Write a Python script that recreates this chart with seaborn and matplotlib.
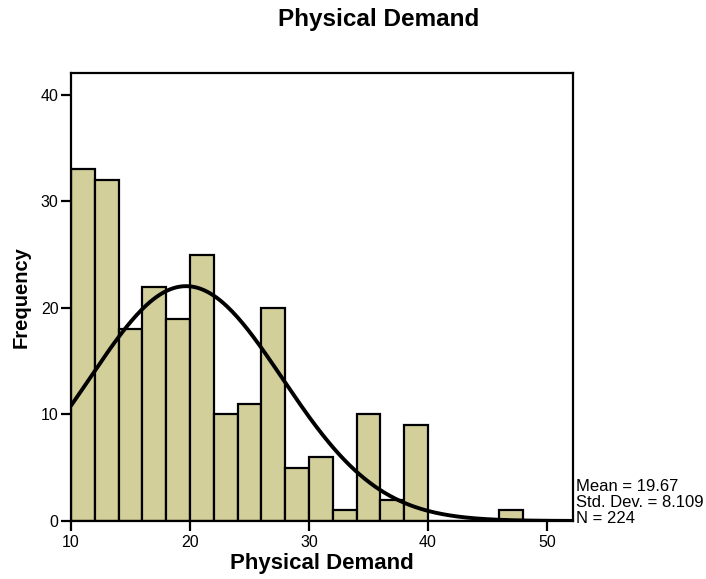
import numpy as np
import pandas as pd
import matplotlib
matplotlib.use("Agg")
import matplotlib.pyplot as plt
import seaborn as sns

# --- Histogram data (bin width = 2) ---
bin_edges = [10, 12, 14, 16, 18, 20, 22, 24, 26, 28, 30, 32, 34, 36, 38, 40, 42, 44, 46, 48]
counts = [33, 32, 18, 22, 19, 25, 10, 11, 20, 5, 6, 1, 10, 2, 9, 0, 0, 0, 1]
x_ticks = [10, 20, 30, 40, 50]
y_ticks = [0, 10, 20, 30, 40]

# summary stats printed on the chart
MEAN = 19.67
STD = 8.109
N = 224

BAR_COLOR = '#D3CF9B'

sns.set_style("white")
plt.rcParams['font.family'] = ['Liberation Sans', 'DejaVu Sans']
plt.rcParams['text.color'] = 'black'
plt.rcParams['axes.labelcolor'] = 'black'
plt.rcParams['xtick.color'] = 'black'
plt.rcParams['ytick.color'] = 'black'

df = pd.DataFrame({
    'center': [(a + b) / 2 for a, b in zip(bin_edges[:-1], bin_edges[1:])],
    'count': counts,
})

fig = plt.figure(figsize=(7.06, 5.79), dpi=100)
ax = fig.add_axes([0.1006, 0.1002, 0.7110, 0.7738])

sns.histplot(
    data=df, x='center', weights='count', bins=bin_edges,
    color=BAR_COLOR, alpha=1, edgecolor='black', linewidth=1.6, ax=ax
)

# normal curve from the reported mean / std, scaled to counts
bin_width = bin_edges[1] - bin_edges[0]
xs = np.linspace(10, 52.2, 300)
ys = N * bin_width * np.exp(-0.5 * ((xs - MEAN) / STD) ** 2) / (STD * np.sqrt(2 * np.pi))
sns.lineplot(x=xs, y=ys, color='black', linewidth=2.8, ax=ax)

ax.set_xlim(10, 52.2)
ax.set_ylim(0, 42.05)
ax.set_xticks(x_ticks)
ax.set_yticks(y_ticks)
ax.tick_params(axis='both', bottom=True, left=True, direction='out', length=7, width=1.6,
               labelsize=11.5, color='black', labelcolor='black')
ax.tick_params(axis='y', pad=2)
ax.tick_params(axis='x', pad=3)
for side in ax.spines.values():
    side.set_linewidth(1.6)
    side.set_color('black')

ax.set_xlabel('Physical Demand', fontsize=16, fontweight='bold', labelpad=2, color='black')
ax.set_ylabel('Frequency', fontsize=14.5, fontweight='bold', labelpad=7, color='black')
fig.text(0.537, 0.966, 'Physical Demand', ha='center', va='center',
         fontsize=17.5, fontweight='bold', color='black')

ax.text(1.006, -0.012, 'Mean = 19.67\nStd. Dev. = 8.109\nN = 224', transform=ax.transAxes,
        ha='left', va='bottom', fontsize=12, linespacing=1.08, color='black')

fig.savefig('out.png', dpi=100)
